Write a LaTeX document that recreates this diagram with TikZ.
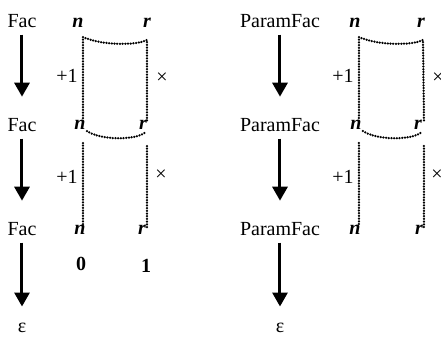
\documentclass[tikz,border=0pt]{standalone}
\usepackage{fontspec}
\setmainfont{Liberation Serif}
\usetikzlibrary{arrows.meta}
\tikzset{
  term/.style={inner sep=3.33pt},
  var/.style={inner sep=1pt, font=\bfseries\itshape},
  val/.style={inner sep=1pt, font=\bfseries},
  op/.style={inner sep=1pt},
  flow/.style={-{Triangle[length=7pt,width=7.5pt]}, line width=1.5pt},
  flowend/.style={flow, shorten >=7.3pt},
  flowfin/.style={flow, shorten >=4.8pt},
  chain/.style={line width=1.25pt, line cap=round, dash pattern=on 0pt off 1.35pt}
}
\begin{document}
\begin{tikzpicture}[x=0.5pt, y=-0.5pt]
\useasboundingbox (0,0) rectangle (441,338);
% left: Fac
\node[term] (fac1) at (22,21) {Fac};
\node[term] (fac2) at (22,125) {Fac};
\node[term] (fac3) at (22,229) {Fac};
\node[term] (eps1) at (22,328) {ε};
\node[var] (n1) at (78,23) {n};
\node[var] (r1) at (147,23) {r};
\node[var] (n2) at (80,125) {n};
\node[var] (r2) at (143,125) {r};
\node[var] (n3) at (80,230) {n};
\node[var] (r3) at (142,230) {r};
\node[val] (zero) at (81,264) {0};
\node[val] (one) at (146,266) {1};
\node[op] (inc1) at (67,76) {+1};
\node[op] (inc2) at (67,177) {+1};
\node[op] (mul1) at (162,78) {×};
\node[op] (mul2) at (161,175) {×};
\draw[flowend] (fac1) -- (fac2);
\draw[flowend] (fac2) -- (fac3);
\draw[flowfin] (fac3) -- (eps1);
\coordinate (nA) at (83,37);
\coordinate (nB) at (83,118);
\coordinate (rA) at (147,40);
\coordinate (rB) at (147,121);
\coordinate (nE) at (87,131);
\coordinate (rE) at (146,132);
\coordinate (nC) at (83,143);
\coordinate (nD) at (83,226);
\coordinate (rC) at (147,146);
\coordinate (rD) at (147,229);
\draw[chain] (nB) -- (nA) .. controls (100,45) and (135,46) .. (rA) -- (rB);
\draw[chain] (nE) .. controls (100,140) and (135,141) .. (rE);
\draw[chain] (nC) -- (nD);
\draw[chain] (rC) -- (rD);
% right: ParamFac
\node[term] (pfac1) at (280,21) {ParamFac};
\node[term] (pfac2) at (280,125) {ParamFac};
\node[term] (pfac3) at (280,229) {ParamFac};
\node[term] (eps2) at (280,328) {ε};
\node[var] (pn1) at (355,23) {n};
\node[var] (pr1) at (421,23) {r};
\node[var] (pn2) at (356,125) {n};
\node[var] (pr2) at (418,125) {r};
\node[var] (pn3) at (355,230) {n};
\node[var] (pr3) at (419,230) {r};
\node[op] (pinc1) at (343,76) {+1};
\node[op] (pinc2) at (343,177) {+1};
\node[op] (pmul1) at (438,78) {×};
\node[op] (pmul2) at (437,175) {×};
\draw[flowend] (pfac1) -- (pfac2);
\draw[flowend] (pfac2) -- (pfac3);
\draw[flowfin] (pfac3) -- (eps2);
\coordinate (pnA) at (359,37);
\coordinate (pnB) at (359,118);
\coordinate (prA) at (423,40);
\coordinate (prB) at (424,121);
\coordinate (pnE) at (363,131);
\coordinate (prE) at (422,132);
\coordinate (pnC) at (359,143);
\coordinate (pnD) at (359,226);
\coordinate (prC) at (424,146);
\coordinate (prD) at (424,229);
\draw[chain] (pnB) -- (pnA) .. controls (376,45) and (411,46) .. (prA) -- (prB);
\draw[chain] (pnE) .. controls (376,140) and (411,141) .. (prE);
\draw[chain] (pnC) -- (pnD);
\draw[chain] (prC) -- (prD);
\end{tikzpicture}
\end{document}
